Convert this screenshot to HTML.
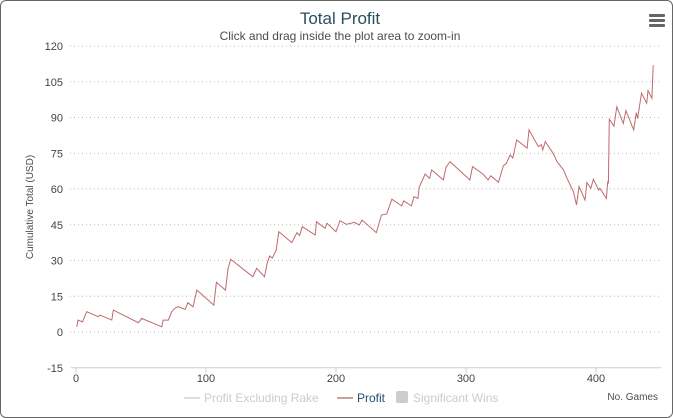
<!DOCTYPE html>
<html><head><meta charset="utf-8">
<style>
html,body{margin:0;padding:0;background:#fff;}
body{width:673px;height:418px;overflow:hidden;font-family:"Liberation Sans","DejaVu Sans",sans-serif;}
#frame{position:absolute;left:0;top:0;width:671px;height:416px;border:1px solid #666;border-radius:6px;}
</style></head>
<body>
<div id="frame"></div>
<svg id="chart" width="673" height="418" style="position:absolute;left:0;top:0">
  <text x="340" y="24" text-anchor="middle" font-size="17" fill="#2a4d5e">Total Profit</text>
  <text x="340" y="40" text-anchor="middle" font-size="12" fill="#4d4d4d">Click and drag inside the plot area to zoom-in</text>
  <g>
    <rect x="649" y="14" width="16" height="3" rx="1" fill="#666"/>
    <rect x="649" y="19" width="16" height="3" rx="1" fill="#666"/>
    <rect x="649" y="24" width="16" height="3" rx="1" fill="#666"/>
  </g>
  <text transform="translate(33,207) rotate(-90)" text-anchor="middle" font-size="10" fill="#4d4d4d">Cumulative Total (USD)</text>
  <g id="grid"></g>
  <g id="yticks"></g>
  <g id="xaxis"></g>
  <g id="series"></g>
  <text x="658" y="400" text-anchor="end" font-size="10" fill="#4d4d4d">No. Games</text>
  <g>
    <g>
      <line x1="184" y1="398" x2="200" y2="398" stroke="#ddd" stroke-width="2"/>
      <text x="204" y="402" font-size="12" fill="#ccc">Profit Excluding Rake</text>
    </g>
    <g>
      <line x1="337" y1="398" x2="353" y2="398" stroke="#c9a0a0" stroke-width="2"/>
      <text x="357" y="402" font-size="12" fill="#274b6d">Profit</text>
    </g>
    <g>
      <rect x="396" y="391" width="12" height="12" rx="2" fill="#ccc"/>
      <text x="413" y="402" font-size="12" fill="#ccc">Significant Wins</text>
    </g>
  </g>
</svg>
<script>
const yTicks = [-15, 0, 15, 30, 45, 60, 75, 90, 105, 120];
const xTicks = [0, 100, 200, 300, 400];
const games = [0.5,1.5,5,8.2,17,18.5,27.5,28.7,48,50.5,66,67,71,73.6,76,78.5,84,86,90,93,106,108,115,117,119,136,139,145,147,149,151,154,156,166,170,172,174,184,185,191.5,193,200,203,208,214,218,220,231,235,239,243,250.5,252,258,260,263,264,268.5,272,273.6,282.5,284.6,287.7,303,305,313,317,319,325,328.7,331,334,336,339,347,348.5,355.6,358,359,361,367,370,375,377.7,382.6,385,387,391.5,393,396,398,402,403,408,409,409.5,410.2,413.8,416,421,423,429,431,432,435,439,440,443,444];
const profit = [2.2,5.0,4.3,8.5,6.4,7.1,5.0,9.2,3.9,5.7,2.2,5.0,5.0,8.5,9.9,10.6,9.5,12.3,10.6,17.6,11.3,20.9,17.6,26.7,30.5,23.2,26.7,23.2,28.8,31.9,31.0,34.4,42.1,37.5,41.7,40.5,44.2,40.7,46.3,43.5,45.6,42.1,46.7,45.2,46.0,44.9,47.0,41.7,49.1,49.5,55.7,52.9,55.0,52.9,56.8,56.0,60.7,66.3,64.5,68.0,63.8,69.1,71.5,63.8,69.4,66.3,63.8,65.6,62.8,69.7,70.8,74.3,73.0,80.6,77.1,84.8,77.8,78.6,76.4,79.9,75.0,71.5,68.0,64.5,58.9,53.3,61.0,55.4,62.7,60.3,64.1,59.6,60.3,56.0,63.1,62.3,89.3,86.4,94.5,87.5,92.9,84.8,92.0,89.6,100.2,96.0,101.3,98.1,112.0];

const NS = "http://www.w3.org/2000/svg";
const X0 = 76, XPX = 1.3;
const Y0 = 332, YPX = 286 / 120;
const xScale = v => X0 + v * XPX;
const yScale = v => Y0 - v * YPX;

const grid = document.getElementById('grid');
const yt = document.getElementById('yticks');
yTicks.forEach(t => {
  const y = yScale(t);
  if (t !== -15) {
    const l = document.createElementNS(NS, 'line');
    l.setAttribute('x1', 70); l.setAttribute('x2', 660);
    l.setAttribute('y1', y); l.setAttribute('y2', y);
    l.setAttribute('stroke', '#bbb'); l.setAttribute('stroke-dasharray', '1,3');
    
    
    grid.appendChild(l);
  }
  const tx = document.createElementNS(NS, 'text');
  tx.setAttribute('x', 63); tx.setAttribute('y', y + 4);
  tx.setAttribute('text-anchor', 'end'); tx.setAttribute('font-size', '11'); tx.setAttribute('fill', '#444');
  tx.textContent = t;
  
  
  yt.appendChild(tx);
});

const xa = document.getElementById('xaxis');
const axisY = yScale(-15);
const al = document.createElementNS(NS, 'line');
al.setAttribute('x1', 71); al.setAttribute('x2', 661);
al.setAttribute('y1', axisY); al.setAttribute('y2', axisY);
al.setAttribute('stroke', '#c0d0e0');


xa.appendChild(al);
xTicks.forEach(t => {
  const x = xScale(t);
  const tk = document.createElementNS(NS, 'line');
  tk.setAttribute('x1', x); tk.setAttribute('x2', x);
  tk.setAttribute('y1', axisY); tk.setAttribute('y2', axisY + 5);
  tk.setAttribute('stroke', '#c0d0e0');
  
  
  xa.appendChild(tk);
  const tx = document.createElementNS(NS, 'text');
  tx.setAttribute('x', x); tx.setAttribute('y', axisY + 14);
  tx.setAttribute('text-anchor', 'middle'); tx.setAttribute('font-size', '11'); tx.setAttribute('fill', '#444');
  tx.textContent = t;
  
  
  xa.appendChild(tx);
});

const s = document.getElementById('series');
const p = document.createElementNS(NS, 'path');
p.setAttribute('d', games.map((g, i) => (i ? 'L' : 'M') + xScale(g).toFixed(1) + ',' + yScale(profit[i]).toFixed(1)).join(' '));
p.setAttribute('fill', 'none'); p.setAttribute('stroke', '#bf6a6e'); p.setAttribute('stroke-width', '1');


s.appendChild(p);
</script>
</body></html>
